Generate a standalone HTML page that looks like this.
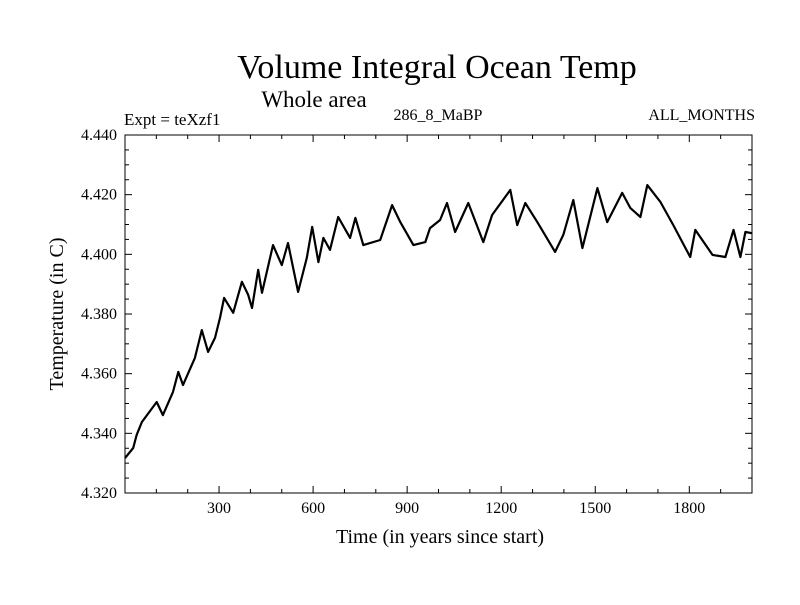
<!DOCTYPE html>
<html><head><meta charset="utf-8"><style>
body{margin:0;background:#fff;}
svg text{font-family:"Liberation Serif",serif;fill:#000;}
</style></head><body>
<svg id="chart" width="800" height="600">
<text x="437" y="78" font-size="34" text-anchor="middle">Volume Integral Ocean Temp</text>
<text x="314" y="107" font-size="23" text-anchor="middle">Whole area</text>
<text x="124" y="125" font-size="17">Expt = teXzf1</text>
<text x="438" y="120" font-size="16" text-anchor="middle">286_8_MaBP</text>
<text x="755" y="120" font-size="16" text-anchor="end">ALL_MONTHS</text>
<text x="440" y="543" font-size="20" text-anchor="middle">Time (in years since start)</text>
<text transform="translate(63,314) rotate(-90)" font-size="20" text-anchor="middle">Temperature (in C)</text>
<g id="axes"></g>
<path id="series" fill="none" stroke="#000" stroke-width="2.2" stroke-linejoin="round"/>
<rect x="125" y="135" width="627" height="358" fill="none" stroke="#000" stroke-width="1"/>
</svg>
<script>
const years=[0,26,37,54,101,121,153,170,185,223,245,265,287,303,316,345,373,393,405,425,437,472,500,520,552,580,597,617,633,654,680,718,735,760,814,852,878,920,958,973,1005,1027,1053,1095,1143,1171,1229,1251,1277,1315,1372,1398,1430,1459,1507,1538,1586,1612,1644,1666,1708,1749,1803,1819,1874,1915,1941,1963,1979,2000];
const temps=[4.3317,4.3351,4.3394,4.3438,4.3505,4.3461,4.3539,4.3606,4.3562,4.3653,4.3746,4.3673,4.3720,4.3787,4.3854,4.3804,4.3908,4.3864,4.3820,4.3948,4.3871,4.4031,4.3964,4.4038,4.3874,4.3988,4.4092,4.3974,4.4055,4.4015,4.4125,4.4055,4.4122,4.4031,4.4048,4.4165,4.4108,4.4031,4.4041,4.4088,4.4115,4.4172,4.4075,4.4172,4.4041,4.4132,4.4216,4.4098,4.4172,4.4108,4.4008,4.4065,4.4182,4.4021,4.4222,4.4108,4.4206,4.4155,4.4125,4.4232,4.4175,4.4098,4.3991,4.4082,4.3998,4.3991,4.4082,4.3991,4.4075,4.4071];
const xTicks=[300,600,900,1200,1500,1800];
const yTicks=[4.320,4.340,4.360,4.380,4.400,4.420,4.440];
const X0=125,X1=752,Y0=493,Y1=135;
function sx(v){return X0+(v-0)/(2000-0)*(X1-X0);}
function sy(v){return Y0-(v-4.32)/(4.44-4.32)*(Y0-Y1);}
const NS="http://www.w3.org/2000/svg";
const axes=document.getElementById('axes');
function line(x1,y1,x2,y2,name){const l=document.createElementNS(NS,'line');
l.setAttribute('x1',x1);l.setAttribute('y1',y1);l.setAttribute('x2',x2);l.setAttribute('y2',y2);
l.setAttribute('stroke','#000');l.setAttribute('stroke-width','1');


axes.appendChild(l);}
function txt(x,y,s,anchor,name){const t=document.createElementNS(NS,'text');
t.setAttribute('x',x);t.setAttribute('y',y);t.setAttribute('font-size','16');t.setAttribute('text-anchor',anchor);t.textContent=s;


axes.appendChild(t);}
for(let v=100;v<2000;v+=100){const x=sx(v);const maj=v%300===0;const L=maj?7:4;
line(x,Y0,x,Y0-L,'x-tick');line(x,Y1,x,Y1+L,'x-tick-top');}
xTicks.forEach(v=>txt(sx(v),513,String(v),'middle','x-tick-label'));
for(let i=0;i<=24;i++){const v=4.32+i*0.005;const y=sy(v);const maj=i%4===0;const L=maj?7:4;
line(X0,y,X0+L,y,'y-tick');line(X1,y,X1-L,y,'y-tick-right');}
yTicks.forEach(v=>txt(117,sy(v)+5,v.toFixed(3),'end','y-tick-label'));
let d='';years.forEach((yr,i)=>{d+=(i?'L':'M')+sx(yr).toFixed(1)+','+sy(temps[i]).toFixed(1);});
document.getElementById('series').setAttribute('d',d);
</script>
</body></html>
